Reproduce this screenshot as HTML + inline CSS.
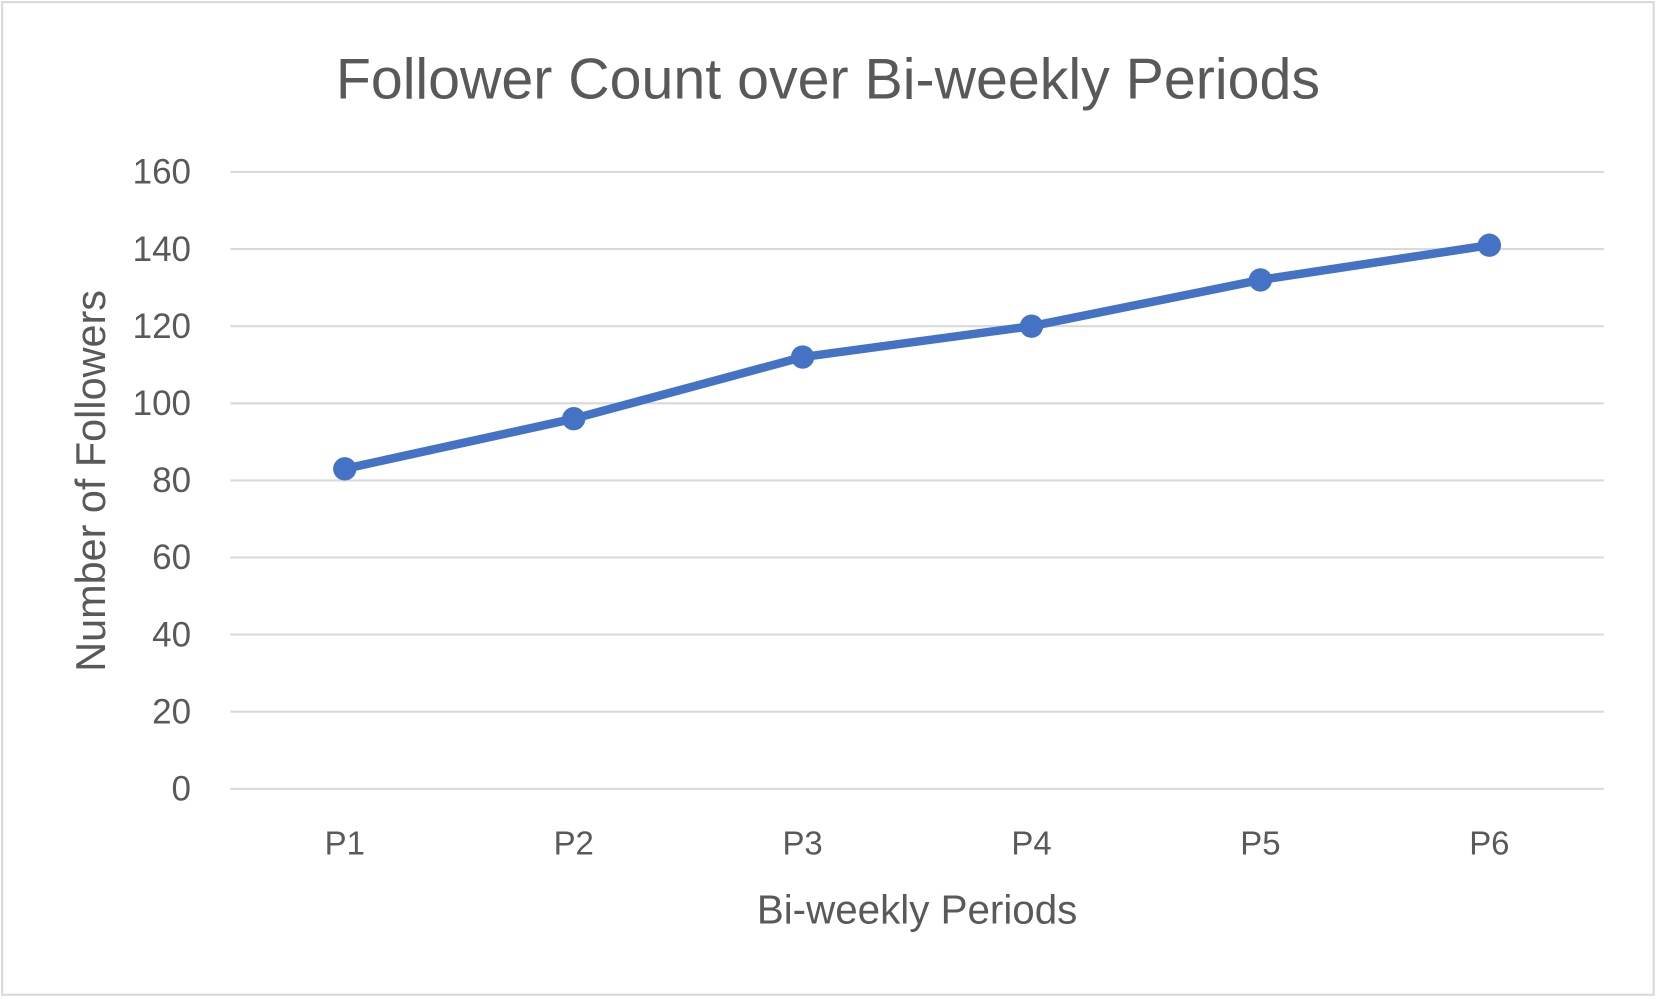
<!DOCTYPE html>
<html><head><meta charset="utf-8"><style>
html,body{margin:0;padding:0;background:#fff;}
svg{display:block;font-family:"Liberation Sans",sans-serif;}
</style></head><body>
<svg id="chart" width="1659" height="999" viewBox="0 0 1563 941" preserveAspectRatio="none">
<rect x="2" y="2" width="1556" height="935" fill="#fff" stroke="#d9d9d9" stroke-width="2"/>
<text x="780" y="93" text-anchor="middle" font-size="54" fill="#595959">Follower Count over Bi-weekly Periods</text>
<g id="grid"></g><g id="yticks"></g><g id="xticks"></g><g id="series"></g>
<text x="864" y="870" text-anchor="middle" font-size="38" fill="#595959">Bi-weekly Periods</text>
<text x="0" y="0" transform="translate(99,453) rotate(-90)" text-anchor="middle" font-size="39" fill="#595959">Number of Followers</text>
</svg>
<script>
const categories=["P1","P2","P3","P4","P5","P6"];
const followers=[83,96,112,120,132,141];
const yTicks=[0,20,40,60,80,100,120,140,160];
const NS="http://www.w3.org/2000/svg";
const x0=217,x1=1511,yTop=162,yBot=743,yMax=160;
function xs(i){return x0+(x1-x0)*(i+0.5)/categories.length;}
function ys(v){return yBot-(yBot-yTop)*v/yMax;}
function mk(t,a,p){const e=document.createElementNS(NS,t);for(const k in a)e.setAttribute(k,a[k]);document.getElementById(p).appendChild(e);return e;}
yTicks.forEach(v=>{
 const l=mk("line",{x1:x0,x2:x1,y1:ys(v),y2:ys(v),stroke:"#d9d9d9","stroke-width":2},"grid");
 
 
 const t=mk("text",{x:180,y:ys(v)+11,"text-anchor":"end","font-size":33,fill:"#595959"},"yticks");
 t.textContent=v;
 
 
});
categories.forEach((c,i)=>{
 const t=mk("text",{x:xs(i),y:805,"text-anchor":"middle","font-size":31,fill:"#595959"},"xticks");
 t.textContent=c;
 
 
});
const pl=mk("polyline",{points:followers.map((v,i)=>xs(i)+","+ys(v)).join(" "),fill:"none",stroke:"#4472C4","stroke-width":8,"stroke-linejoin":"round","stroke-linecap":"round"},"series");


followers.forEach((v,i)=>{
 const c=mk("circle",{cx:xs(i),cy:ys(v),r:11,fill:"#4472C4"},"series");
 
 
});
</script>
</body></html>
